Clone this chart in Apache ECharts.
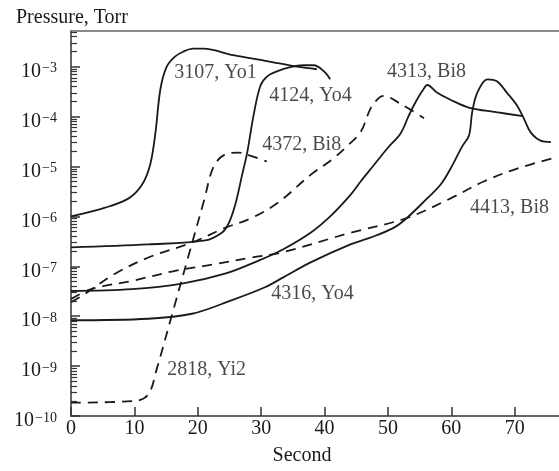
<!DOCTYPE html>
<html>
<head>
<meta charset="utf-8">
<script src="https://cdn.jsdelivr.net/npm/echarts@6/dist/echarts.min.js"></script>
<style>
html,body{margin:0;padding:0;background:#fff;}
#c{width:559px;height:471px;}
</style>
</head>
<body>
<div id="c"></div>
<script>
// ---- data (x in seconds, y in Torr) ----
const s3107_x = [0, 5.4, 9.1, 11.2, 12.5, 13.3, 14.1, 15.1, 16.4, 17.7, 19.3, 20.9, 25.6, 30.9, 35.7, 38.8];
const s3107_y = [1.0e-6, 1.5e-6, 2.3e-6, 4.3e-6, 1.1e-5, 4.5e-5, 3.5e-4, 1.0e-3, 1.6e-3, 2.0e-3, 2.3e-3, 2.3e-3, 1.7e-3, 1.3e-3, 1.0e-3, 8.9e-4];

const s4124_x = [0, 12.2, 21.2, 23.8, 24.8, 25.9, 27.0, 27.8, 28.8, 29.9, 31.0, 32.5, 34.6, 36.7, 38.3, 39.9, 40.9];
const s4124_y = [2.4e-7, 2.75e-7, 3.3e-7, 4.7e-7, 6.9e-7, 1.7e-6, 6.8e-6, 1.9e-5, 1.05e-4, 4.2e-4, 6.5e-4, 8.1e-4, 9.8e-4, 1.07e-3, 1.07e-3, 8.1e-4, 5.6e-4];

const s2818_x = [0, 10.1, 12.2, 13.5, 16.0, 18.5, 21.0, 22.5, 24.3, 26.4, 28.0, 30.9];
const s2818_y = [1.85e-10, 2.0e-10, 2.7e-10, 8.5e-10, 1.15e-8, 1.55e-7, 2.1e-6, 1.0e-5, 1.74e-5, 1.9e-5, 1.7e-5, 1.26e-5];

const s4372_x = [0, 2.2, 6.95, 12.2, 19.1, 24.3, 28.5, 32.7, 37.8, 41.4, 43.6, 45.7, 47.2, 48.3, 49.3, 52.0, 55.7];
const s4372_y = [1.9e-8, 2.8e-8, 7.1e-8, 1.5e-7, 3.0e-7, 5.9e-7, 9.3e-7, 1.9e-6, 6.8e-6, 1.45e-5, 2.6e-5, 4.9e-5, 1.4e-4, 2.2e-4, 2.6e-4, 1.8e-4, 9.3e-5];

const s4413_x = [0, 3.2, 9.6, 16.4, 22.7, 28.5, 33.3, 44.1, 53.0, 59.9, 65.1, 70.4, 76.7];
const s4413_y = [2.2e-8, 3.5e-8, 5.1e-8, 8.1e-8, 1.1e-7, 1.5e-7, 1.9e-7, 4.7e-7, 9.3e-7, 2.3e-6, 5.0e-6, 9.1e-6, 1.55e-5];

const s4313_x = [0, 9.6, 17.5, 24.3, 29.6, 33.5, 37.8, 40.9, 44.1, 45.7, 47.8, 49.9, 52.0, 53.3, 54.6, 55.9, 56.2, 57.8, 59.8, 62.9, 67.1, 71.3];
const s4313_y = [3.2e-8, 3.5e-8, 4.5e-8, 7.1e-8, 1.3e-7, 2.2e-7, 4.7e-7, 1.0e-6, 2.7e-6, 5.0e-6, 1.07e-5, 2.3e-5, 4.6e-5, 1.05e-4, 2.2e-4, 4.0e-4, 4.3e-4, 3.0e-4, 2.2e-4, 1.5e-4, 1.23e-4, 1.02e-4];

const s4316_x = [0, 12.2, 19.1, 25.4, 30.6, 33.5, 37.8, 44.1, 47.1, 50.9, 53.0, 56.2, 58.3, 59.9, 61.7, 62.8, 63.3, 64.1, 65.7, 67.2, 68.8, 70.4, 71.5, 72.5, 74.1, 75.7];
const s4316_y = [8.3e-9, 8.9e-9, 1.12e-8, 2.1e-8, 3.8e-8, 6.0e-8, 1.2e-7, 2.75e-7, 3.7e-7, 5.9e-7, 9.3e-7, 2.3e-6, 4.3e-6, 9.1e-6, 2.5e-5, 4.2e-5, 1.23e-4, 3.0e-4, 5.6e-4, 5.1e-4, 3.0e-4, 1.66e-4, 8.9e-5, 4.9e-5, 3.3e-5, 3.1e-5];

// curve annotations (text, anchor in data units)
const noteText = ['3107, Yo1', '4124, Yo4', '4372, Bi8', '4313, Bi8', '4413, Bi8', '4316, Yo4', '2818, Yi2'];
const noteX    = [22.8, 37.8, 36.4, 56.1, 69.2, 38.1, 21.4];
const noteY    = [7.7e-4, 2.6e-4, 2.7e-5, 8.1e-4, 1.5e-6, 2.8e-8, 8.5e-10];

const xTicks = [0, 10, 20, 30, 40, 50, 60, 70];
const yMin = 1e-10, yMax = 5.2e-3, xMin = 0, xMax = 77;

// minor tick values 2..9 x 10^n
const minorVals = [];
for (let e = -10; e <= -3; e++) for (let k = 2; k <= 9; k++) { const v = k * Math.pow(10, e); if (v <= yMax) minorVals.push(v); }

const FONT = '"Liberation Serif", "DejaVu Serif", serif';
const INK = '#1a1a1a';

function pairs(xs, ys){ return xs.map((x,i)=>[x, ys[i]]); }
function curve(name, xs, ys, dashed){
  return {
    name, type:'line', data: pairs(xs, ys), showSymbol:false, smooth:0.35,
    lineStyle:{color:INK, width:1.8, type: dashed ? [10,7] : 'solid'},
    silent:true, z:3
  };
}

const chart = echarts.init(document.getElementById('c'), null, {renderer:'canvas'});
chart.setOption({
  animation:false,
  backgroundColor:'#fff',
  title:{text:'Pressure, Torr', left:11, top:3, textStyle:{fontFamily:FONT, fontSize:20, fontWeight:'normal', color:INK}},
  grid:{left:71, right:0, top:31, bottom:51},
  xAxis:[{
    type:'value', min:xMin, max:xMax, interval:10, position:'bottom',
    name:'Second', nameLocation:'middle', nameGap:30,
    nameTextStyle:{fontFamily:FONT, fontSize:20, color:INK, padding:[0,26,0,0]},
    axisLine:{lineStyle:{color:'#333', width:1.5}},
    axisTick:{inside:true, length:9, lineStyle:{color:'#333', width:1.5}},
    axisLabel:{fontFamily:FONT, fontSize:20, color:INK, margin:3, showMaxLabel:false,
      formatter:v => xTicks.indexOf(v) >= 0 ? String(v) : ''},
    splitLine:{show:false}
  },{
    type:'value', min:xMin, max:xMax, position:'top',
    axisLine:{show:true, lineStyle:{color:'#666', width:1.5}},
    axisTick:{show:false}, axisLabel:{show:false}, splitLine:{show:false}
  }],
  yAxis:[{
    type:'log', logBase:10, min:yMin, max:yMax, interval:1, position:'left',
    axisLine:{lineStyle:{color:'#333', width:1.5}},
    axisTick:{inside:true, length:9, lineStyle:{color:'#333', width:1.5}},
    axisLabel:{margin:14, showMaxLabel:false, padding:[10,0,0,0],
      formatter:v => { const l = Math.log10(v), e = Math.round(l); if (Math.abs(l-e) > 1e-6) return ''; return '{b|10}{s|\u2212' + (-e) + '}'; },
      rich:{
        b:{fontFamily:FONT, fontSize:20, color:INK, lineHeight:20, verticalAlign:'bottom'},
        s:{fontFamily:FONT, fontSize:14, color:INK, lineHeight:14, verticalAlign:'top', padding:[0,0,2,1]}
      }},
    splitLine:{show:false}
  },{
    type:'log', logBase:10, min:yMin, max:yMax, position:'left',
    axisLine:{show:false},
    axisTick:{show:true, inside:true, length:6, customValues:minorVals, lineStyle:{color:'#333', width:1.2}},
    axisLabel:{show:false}, splitLine:{show:false}
  }],
  series:[
    curve('3107, Yo1', s3107_x, s3107_y, false),
    curve('4124, Yo4', s4124_x, s4124_y, false),
    curve('2818, Yi2', s2818_x, s2818_y, true),
    curve('4372, Bi8', s4372_x, s4372_y, true),
    curve('4413, Bi8', s4413_x, s4413_y, true),
    curve('4313, Bi8', s4313_x, s4313_y, false),
    curve('4316, Yo4', s4316_x, s4316_y, false),
    {
      name:'notes', type:'scatter', symbolSize:0, silent:true, z:5,
      data: noteText.map((t,i)=>({name:t, value:[noteX[i], noteY[i]]})),
      label:{show:true, position:'inside', formatter:'{b}', fontFamily:FONT, fontSize:20, color:INK,
        backgroundColor:'transparent'}
    }
  ]
});
</script>
</body>
</html>
